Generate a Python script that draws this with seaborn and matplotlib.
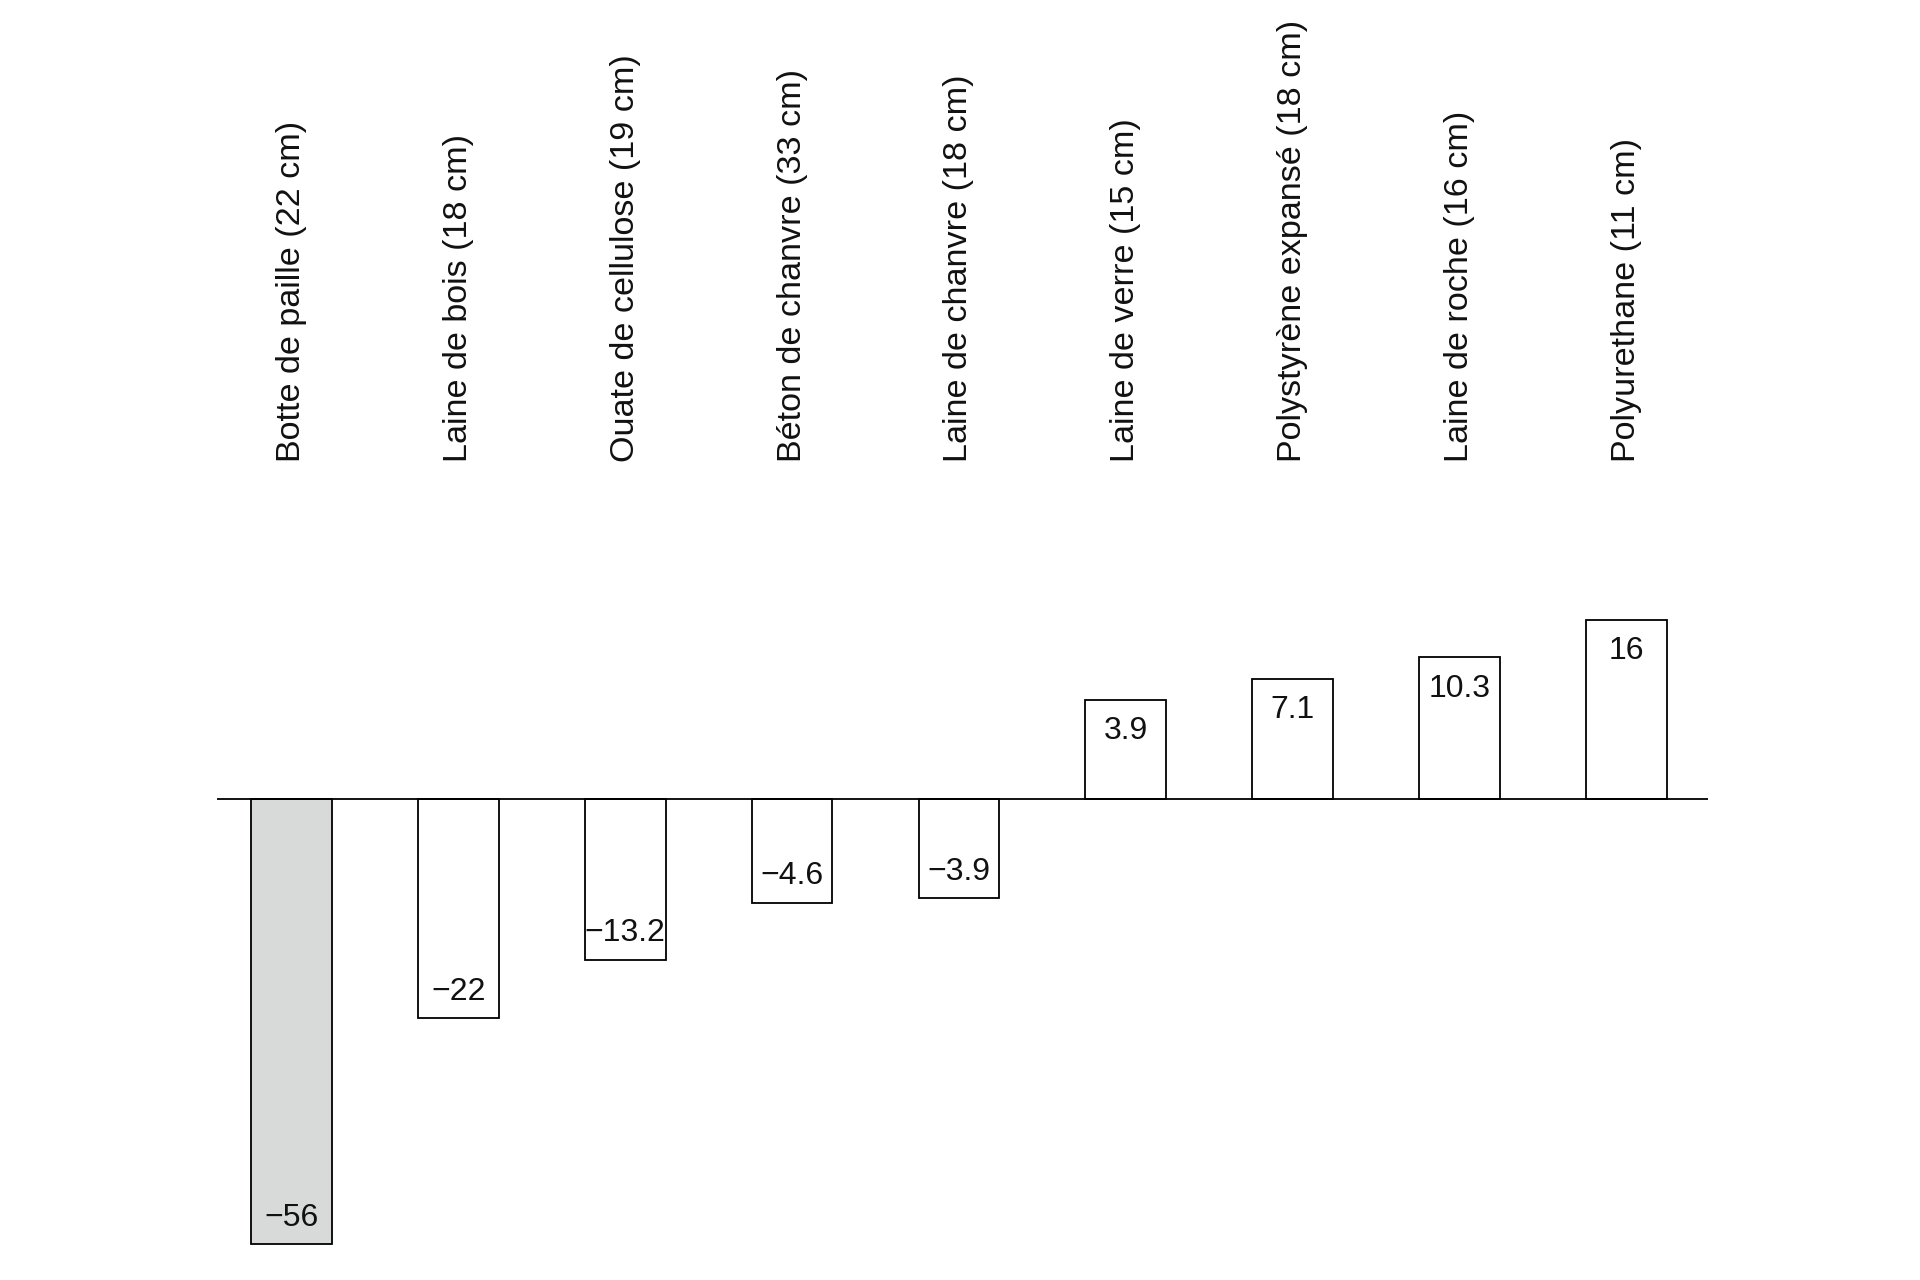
import numpy as np
import seaborn as sns
import matplotlib.pyplot as plt

materials = [
    "Botte de paille (22 cm)",
    "Laine de bois (18 cm)",
    "Ouate de cellulose (19 cm)",
    "Béton de chanvre (33 cm)",
    "Laine de chanvre (18 cm)",
    "Laine de verre (15 cm)",
    "Polystyrène expansé (18 cm)",
    "Laine de roche (16 cm)",
    "Polyurethane (11 cm)",
]
values = [-56, -22, -13.2, -4.6, -3.9, 3.9, 7.1, 10.3, 16]
bar_colors = ["#d8d9d9"] + ["#ffffff"] * 8

# the original bars are not linear: every bar gets a fixed extra length
OFFSET = 11


def fwd(y):
    y = np.asarray(y, dtype=float)
    return np.sign(y) * (OFFSET + np.abs(y))


def inv(y):
    y = np.asarray(y, dtype=float)
    return np.sign(y) * np.maximum(np.abs(y) - OFFSET, 0)


sns.set_theme(style="white")
plt.rcParams["font.family"] = ["Liberation Sans", "DejaVu Sans"]

fig = plt.figure(figsize=(19.2, 12.8), dpi=100)
ax = fig.add_axes([217 / 1920, 16 / 1280, 1491 / 1920, 792 / 1280])

sns.barplot(x=materials, y=values, hue=materials, palette=bar_colors,
            legend=False, saturation=1, width=0.483,
            edgecolor="black", linewidth=1.3, ax=ax)

ax.set_yscale("function", functions=(fwd, inv))
ax.set_ylim(-59.0, 38.2)
ax.set_xlim(-0.447, 8.49)
ax.axhline(0, color="black", lw=1.3, zorder=3)

for i, v in enumerate(values):
    lbl = f"{v:g}".replace("-", "\u2212")
    ax.annotate(lbl, xy=(i, v), xytext=(0, -22.5 if v > 0 else 19),
                textcoords="offset points", ha="center", va="center",
                fontsize=23, color="#111111")

ax.xaxis.tick_top()
ax.set_xticks(range(len(materials)))
ax.set_xticklabels(materials, rotation=90, fontsize=24.6, color="#111111")
ax.tick_params(axis="x", length=0, pad=7)
ax.set_yticks([])
ax.set_xlabel("")
ax.set_ylabel("")
for s in ax.spines.values():
    s.set_visible(False)

fig.savefig("out.png", dpi=100, facecolor="white")
